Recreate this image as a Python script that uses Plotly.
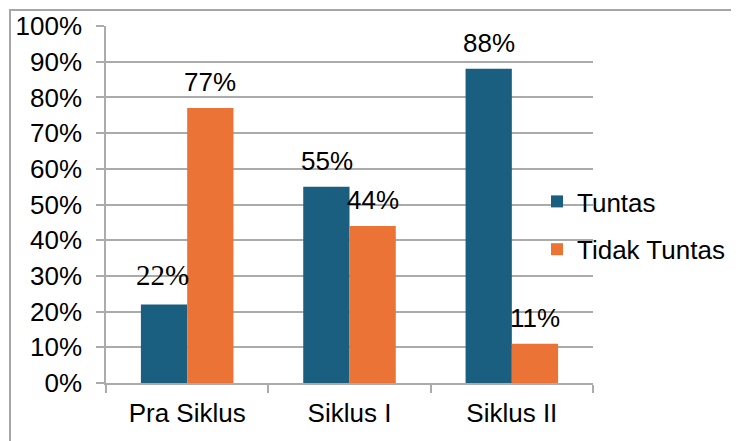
import plotly.graph_objects as go

categories = ["Pra Siklus", "Siklus I", "Siklus II"]
tuntas = [22, 55, 88]
tidak_tuntas = [77, 44, 11]
series_names = ["Tuntas", "Tidak Tuntas"]
tick_vals = [0, 10, 20, 30, 40, 50, 60, 70, 80, 90, 100]
tick_text = [f"{v}%" for v in tick_vals]

BLUE = "#1A5E80"
ORANGE = "#EA7335"
GRID = "#ABABAB"
SANS = "Liberation Sans"
SERIF = "'Times New Roman', 'Liberation Serif', serif"

# page body has an 8px margin; the figure is placed at (8, 8)
OFF = 8
W, H = 739 - OFF, 441 - OFF
L, R, T, B = 106 - OFF, 146, 26 - OFF, 58
pw, ph = W - L - R, H - T - B

fig = go.Figure()
fig.add_trace(go.Bar(x=categories, y=tuntas, name=series_names[0],
                     marker=dict(color=BLUE, line=dict(width=0)),
                     legendgroup="a"))
fig.add_trace(go.Bar(x=categories, y=tidak_tuntas, name=series_names[1],
                     marker=dict(color=ORANGE, line=dict(width=0)),
                     legendgroup="b"))

half = 23
for i, c in enumerate(categories):
    v = tuntas[i]
    if i == 0:
        txt = f"<span style=\"font-family:{SERIF}\">{v}%</span>"
        fnt = dict(family=SERIF, size=29, color="#000000")
        xs, ys = -half - 2, 29
    else:
        txt = f"{v}%"
        fnt = dict(family=SANS, size=26, color="#000000")
        xs, ys = -half, 26
    fig.add_annotation(x=c, y=v, text=txt, showarrow=False,
                       xshift=xs, yshift=ys, yanchor="middle", font=fnt)
    v2 = tidak_tuntas[i]
    fig.add_annotation(x=c, y=v2, text=f"{v2}%", showarrow=False,
                       xshift=half, yshift=26, yanchor="middle",
                       font=dict(family=SANS, size=26, color="#000000"))

# outer border (top and left visible)
bx, by = 10 - OFF, 10 - OFF
fig.add_shape(type="rect", xref="paper", yref="paper",
              x0=(bx - L) / pw, x1=(W + 20 - L) / pw,
              y0=-(B + 20) / ph, y1=1 + (T - by) / ph,
              line=dict(color="#A6A6A6", width=2), fillcolor="rgba(0,0,0,0)",
              layer="below")

leg_x = 537 - OFF
leg_y = 178 - OFF
fig.update_layout(
    width=W, height=H,
    margin=dict(l=L, r=R, t=T, b=B, pad=0, autoexpand=False),
    paper_bgcolor="white", plot_bgcolor="white",
    barmode="group", bargap=0.43, bargroupgap=0,
    font=dict(family=SANS, size=26, color="#000000"),
    showlegend=True,
    legend=dict(x=(leg_x - L) / pw, xanchor="left", y=1 - (leg_y - T) / ph, yanchor="top",
                bgcolor="rgba(0,0,0,0)", font=dict(size=26, family=SANS),
                tracegroupgap=11, traceorder="grouped"),
    xaxis=dict(showgrid=False, showline=True, linecolor=GRID, linewidth=1.5,
               ticks="outside", ticklen=8, tickcolor=GRID, tickwidth=1.5,
               tickson="boundaries", ticklabelstandoff=6, automargin=False,
               tickfont=dict(size=26, family=SANS)),
    yaxis=dict(range=[0, 100], tickvals=tick_vals, ticktext=tick_text,
               showgrid=True, gridcolor=GRID, gridwidth=1.5,
               showline=True, linecolor=GRID, linewidth=1.5,
               ticks="outside", ticklen=8, tickcolor=GRID, tickwidth=1.5,
               ticklabelstandoff=9, zeroline=False, automargin=False,
               tickfont=dict(size=26, family=SANS)),
)

fig.write_html("out.html")
